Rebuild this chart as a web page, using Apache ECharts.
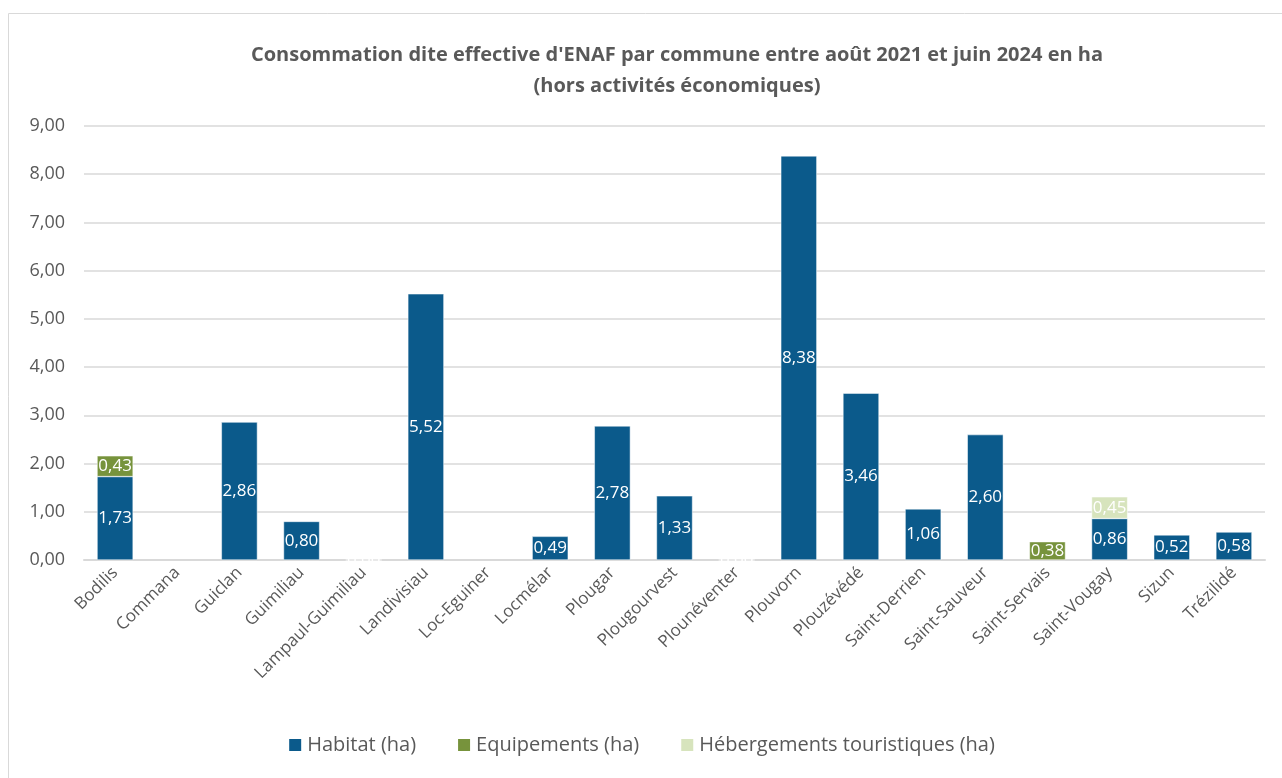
<!DOCTYPE html>
<html><head><meta charset="utf-8">
<script src="https://cdn.jsdelivr.net/npm/echarts@6/dist/echarts.min.js"></script>
<style>html,body{margin:0;padding:0;background:#fff}#c{width:1282px;height:778px}</style>
</head><body><div id="c"></div>
<script>
const categories = ["Bodilis","Commana","Guiclan","Guimiliau","Lampaul-Guimiliau","Landivisiau","Loc-Eguiner","Locmélar","Plougar","Plougourvest","Plounéventer","Plouvorn","Plouzévédé","Saint-Derrien","Saint-Sauveur","Saint-Servais","Saint-Vougay","Sizun","Trézilidé"];
const habitat = [1.73,null,2.86,0.80,0,5.52,null,0.49,2.78,1.33,0,8.38,3.46,1.06,2.60,null,0.86,0.52,0.58];
const equipements = [0.43,null,null,null,null,null,null,null,null,null,null,null,null,null,null,0.38,null,null,null];
const hebergements = [null,null,null,null,null,null,null,null,null,null,null,null,null,null,null,null,0.45,null,null];
const yTicks = [0,1,2,3,4,5,6,7,8,9];

const font = '"Open Sans", "Noto Sans", sans-serif';
const fmt = v => v.toFixed(2).replace('.', ',');
const lbl = {show:true, position:'inside', color:'#fff', fontSize:17, fontFamily:font,
  formatter: p => p.value == null ? '' : fmt(p.value)};
const chart = echarts.init(document.getElementById('c'));
chart.setOption({
  animation:false,
  graphic:[{type:'rect', shape:{x:8.5,y:13.5,width:1290,height:800}, style:{fill:'none', stroke:'#D9D9D9', lineWidth:1}}],
  title:{text:"Consommation dite effective d'ENAF par commune entre août 2021 et juin 2024 en ha\n(hors activités économiques)",
    left:672, top:35, textAlign:'center',
    textStyle:{fontSize:20, fontWeight:'bold', color:'#595959', fontFamily:font, lineHeight:31}},
  legend:{bottom:18, left:'center', itemWidth:14, itemHeight:14, itemGap:40, icon:'rect',
    textStyle:{fontSize:20, color:'#595959', fontFamily:font}},
  grid:{left:84, right:17, top:126, bottom:218},
  xAxis:{type:'category', data:categories,
    axisLine:{lineStyle:{color:'#D9D9D9', width:2}}, axisTick:{show:false},
    axisLabel:{rotate:45, color:'#595959', fontSize:17, fontFamily:font, interval:0, margin:10}},
  yAxis:{type:'value', min:0, max:9, interval:1,
    axisLabel:{color:'#595959', fontSize:18, fontFamily:font, margin:19, formatter: v => fmt(v)},
    splitLine:{lineStyle:{color:'#D9D9D9', width:1.5}}, axisLine:{show:false}, axisTick:{show:false}},
  series:[
    {name:'Habitat (ha)', type:'bar', stack:'s', data:habitat, barWidth:'58%',
      itemStyle:{color:'#0B5A8B', borderColor:'#fff', borderWidth:0.5}, label:lbl},
    {name:'Equipements (ha)', type:'bar', stack:'s', data:equipements,
      itemStyle:{color:'#77933C', borderColor:'#fff', borderWidth:0.5}, label:lbl},
    {name:'Hébergements touristiques (ha)', type:'bar', stack:'s', data:hebergements,
      itemStyle:{color:'#D7E4BD', borderColor:'#fff', borderWidth:0.5}, label:lbl}
  ]
});
</script></body></html>
